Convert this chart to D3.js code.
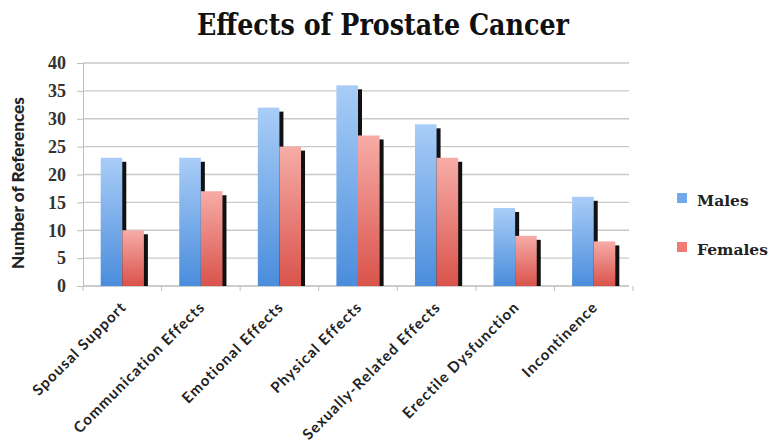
<!DOCTYPE html>
<html>
<head>
<meta charset="utf-8">
<script src="https://cdn.jsdelivr.net/npm/d3@7"></script>
<style>
  html, body { margin: 0; padding: 0; background: #fff; }
  svg { display: block; }
</style>
</head>
<body>
<svg id="chart" width="776" height="445"></svg>
<script>
// Data
const categories = ["Spousal Support", "Communication Effects", "Emotional Effects", "Physical Effects",
  "Sexually-Related Effects", "Erectile Dysfunction", "Incontinence"];
const males = [23, 23, 32, 36, 29, 14, 16];
const females = [10, 17, 25, 27, 23, 9, 8];
const seriesNames = ["Males", "Females"];
const yTicks = [0, 5, 10, 15, 20, 25, 30, 35, 40];

const svg = d3.select("#chart");
const margin = { left: 83, right: 143, top: 63, bottom: 159 };
const W = 776, H = 445;
const plotW = W - margin.left - margin.right;
const plotH = H - margin.top - margin.bottom;

const defs = svg.append("defs");
const gradBlue = defs.append("linearGradient").attr("id", "gBlue").attr("x1", 0).attr("y1", 0).attr("x2", 0).attr("y2", 1);
gradBlue.append("stop").attr("offset", "0%").attr("stop-color", "#a9cdf7");
gradBlue.append("stop").attr("offset", "100%").attr("stop-color", "#4a8ddc");
const gradRed = defs.append("linearGradient").attr("id", "gRed").attr("x1", 0).attr("y1", 0).attr("x2", 0).attr("y2", 1);
gradRed.append("stop").attr("offset", "0%").attr("stop-color", "#f7aca7");
gradRed.append("stop").attr("offset", "100%").attr("stop-color", "#d9534b");
const fills = ["url(#gBlue)", "url(#gRed)"];
const swatch = ["#6fa9ec", "#f07a74"];

const g = svg.append("g").attr("transform", `translate(${margin.left},${margin.top})`);

const x0 = d3.scaleBand().domain(categories).range([0, plotW]).paddingInner(0.45).paddingOuter(0.225);
const x1 = d3.scaleBand().domain(seriesNames).range([0, x0.bandwidth()]);
const y = d3.scaleLinear().domain([0, 40]).range([plotH, 0]);

// Gridlines
g.append("g").selectAll("line").data(yTicks.filter(d => d > 0)).join("line")
  .attr("x1", 0).attr("x2", plotW - 4)
  .attr("y1", d => y(d)).attr("y2", d => y(d))
  .attr("stroke", "#c9c9c9").attr("stroke-width", 1.3);

// Y axis
const yAxis = g.append("g").call(d3.axisLeft(y).tickValues(yTicks).tickSize(6).tickPadding(11));
yAxis.select(".domain").attr("stroke", "#bdbdbd");
yAxis.selectAll(".tick line").attr("stroke", "#bdbdbd");
yAxis.selectAll("text").attr("font-family", "'Liberation Serif', serif").attr("font-size", 18)
  .attr("fill", "#333").attr("font-weight", "bold");

// X axis baseline and ticks at category boundaries
g.append("line").attr("x1", 0).attr("x2", plotW - 4).attr("y1", plotH).attr("y2", plotH)
  .attr("stroke", "#bdbdbd").attr("stroke-width", 1.3);
const step = x0.step();
g.append("g").selectAll("line").data(d3.range(categories.length + 1)).join("line")
  .attr("x1", i => i * step).attr("x2", i => i * step)
  .attr("y1", plotH).attr("y2", plotH + 5)
  .attr("stroke", "#bdbdbd");

// Bars, each with a dark offset shadow
const rows = categories.map((c, i) => ({ c, vals: [males[i], females[i]] }));
const groups = g.append("g").selectAll("g").data(rows).join("g")
  .attr("transform", d => `translate(${x0(d.c)},0)`);
const off = 4;
groups.each(function (d) {
  const gg = d3.select(this);
  d.vals.forEach((v, k) => {
    const bx = x1(seriesNames[k]);
    const bw = x1.bandwidth();
    gg.append("rect")
      .attr("x", bx + off).attr("y", y(v) + off)
      .attr("width", bw).attr("height", Math.max(0, plotH - y(v) - off))
      .attr("fill", "#111");
    gg.append("rect")
      .attr("x", bx).attr("y", y(v))
      .attr("width", bw).attr("height", plotH - y(v))
      .attr("fill", fills[k]);
  });
});

// Category labels
g.append("g").selectAll("text").data(categories).join("text")
  .attr("transform", d => `translate(${x0(d) + x0.bandwidth() / 2 + 5},${plotH + 22}) rotate(-45)`)
  .attr("text-anchor", "end")
  .attr("font-family", "Lato, sans-serif").attr("font-weight", "bold").attr("font-size", 15)
  .attr("letter-spacing", 1.1)
  .attr("fill", "#222")
  .text(d => d);

// Y axis title
svg.append("text")
  .attr("transform", `translate(24,${183}) rotate(-90)`)
  .attr("text-anchor", "middle")
  .attr("font-family", "Lato, sans-serif").attr("font-weight", "900").attr("font-size", 17)
  .attr("textLength", 172).attr("lengthAdjust", "spacingAndGlyphs")
  .attr("fill", "#222")
  .text("Number of References");

// Title
svg.append("text")
  .attr("x", 383).attr("y", 35)
  .attr("text-anchor", "middle")
  .attr("font-family", "'DejaVu Serif', serif").attr("font-weight", "bold").attr("font-size", 29)
  .attr("textLength", 372).attr("lengthAdjust", "spacingAndGlyphs")
  .attr("fill", "#111")
  .text("Effects of Prostate Cancer");

// Legend
const legend = svg.append("g").attr("transform", "translate(677,193)");
seriesNames.forEach((s, k) => {
  const lg = legend.append("g").attr("transform", `translate(0,${k * 49})`);
  lg.append("rect").attr("width", 10).attr("height", 10).attr("fill", swatch[k]);
  lg.append("text").attr("x", 20).attr("y", 13)
    .attr("font-family", "'DejaVu Serif', serif").attr("font-weight", "bold").attr("font-size", 15.5)
    .attr("fill", "#222").text(s);
});
</script>
</body>
</html>
